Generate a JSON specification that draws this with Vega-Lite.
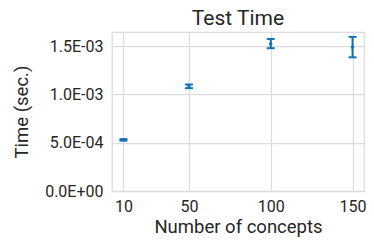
{
  "$schema": "https://vega.github.io/schema/vega-lite/v6.json",
  "autosize": "none",
  "width": 252,
  "height": 159,
  "padding": {"left": 112, "top": 32, "right": 10, "bottom": 55},
  "title": {"text": "Test Time", "font": "Roboto", "fontSize": 21, "fontWeight": "normal", "color": "#262626", "offset": 3},
  "config": {
    "view": {"stroke": "#dcdcdc", "strokeWidth": 1.25},
    "axis": {
      "labelFont": "Roboto", "titleFont": "Roboto",
      "labelFontSize": 16, "titleFontSize": 18.5, "titleFontWeight": "normal",
      "labelColor": "#262626", "titleColor": "#262626",
      "gridColor": "#dcdcdc", "gridWidth": 1.25, "gridOpacity": 1,
      "domain": false, "ticks": false
    }
  },
  "data": {"values": [
    {"n": 10, "mean": 0.000529, "lo": 0.000521, "hi": 0.000537},
    {"n": 50, "mean": 0.001083, "lo": 0.001064, "hi": 0.001102},
    {"n": 100, "mean": 0.001521, "lo": 0.001477, "hi": 0.001573},
    {"n": 150, "mean": 0.001487, "lo": 0.001383, "hi": 0.001594}
  ]},
  "encoding": {
    "x": {"field": "n", "type": "quantitative",
      "scale": {"domain": [3, 157], "nice": false, "zero": false},
      "axis": {"values": [10, 50, 100, 150], "title": "Number of concepts", "labelPadding": 7, "titlePadding": 3}}
  },
  "layer": [
    {"mark": {"type": "rule", "color": "#1372b2", "strokeWidth": 2},
     "encoding": {
       "y": {"field": "lo", "type": "quantitative",
         "scale": {"domain": [0, 0.001645], "nice": false},
         "axis": {"values": [0, 0.0005, 0.001, 0.0015], "title": "Time (sec.)", "labelPadding": 9, "titlePadding": 13,
           "labelExpr": "replace(replace(format(datum.value, '.1e'), 'e-', 'E-0'), 'e+', 'E+0')"}},
       "y2": {"field": "hi"}
     }},
    {"mark": {"type": "tick", "orient": "horizontal", "color": "#1372b2", "size": 8, "thickness": 2, "opacity": 1},
     "encoding": {"y": {"field": "lo", "type": "quantitative"}}},
    {"mark": {"type": "tick", "orient": "horizontal", "color": "#1372b2", "size": 8, "thickness": 2, "opacity": 1},
     "encoding": {"y": {"field": "hi", "type": "quantitative"}}},
    {"mark": {"type": "point", "filled": true, "color": "#1372b2", "size": 12, "opacity": 1},
     "encoding": {"y": {"field": "mean", "type": "quantitative"}}}
  ]
}
